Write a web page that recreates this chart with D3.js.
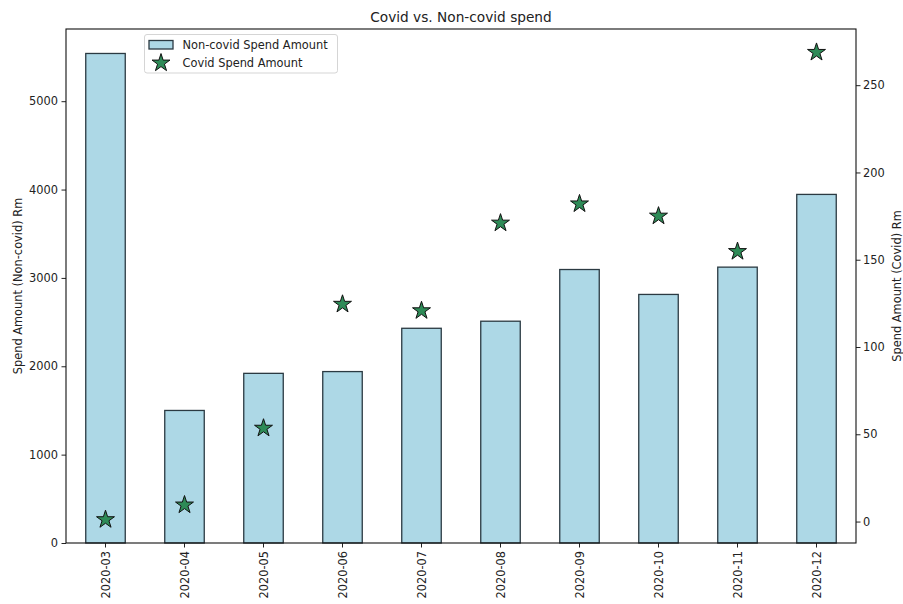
<!DOCTYPE html>
<html>
<head>
<meta charset="utf-8">
<script src="https://cdn.jsdelivr.net/npm/d3@7"></script>
<style>
  body { margin: 0; background: #fff; }
  svg { display: block; font-family: "DejaVu Sans", sans-serif; }
</style>
</head>
<body>
<svg id="chart" width="903" height="604"></svg>
<script>
const months = ["2020-03","2020-04","2020-05","2020-06","2020-07","2020-08","2020-09","2020-10","2020-11","2020-12"];
const nonCovid = [5540, 1500, 1920, 1940, 2430, 2510, 3095, 2813, 3122, 3945];
const covid = [1.1, 9.5, 53.5, 124.5, 120.8, 171, 182, 175, 154.7, 268.8];
const leftTicks = [0, 1000, 2000, 3000, 4000, 5000];
const rightTicks = [0, 50, 100, 150, 200, 250];
const titleText = "Covid vs. Non-covid spend";
const leftLabel = "Spend Amount (Non-covid) Rm";
const rightLabel = "Spend Amount (Covid) Rm";
const legendLabels = ["Non-covid Spend Amount", "Covid Spend Amount"];

const svg = d3.select("#chart");
const L = 66, R = 856, T = 29, B = 543;
const fs = 11.4;

const x = d3.scaleBand().domain(months).range([L, R]).paddingInner(0.5).paddingOuter(0.25);
const maxNC = d3.max(nonCovid);
const yL = d3.scaleLinear().domain([0, maxNC * 1.05]).range([B, T]);
const cMin = d3.min(covid), cMax = d3.max(covid), cr = cMax - cMin;
const yR = d3.scaleLinear().domain([cMin - 0.05 * cr, cMax + 0.05 * cr]).range([B, T]);

// bars
svg.append("g").selectAll("rect").data(months).join("rect")
  .attr("x", d => x(d))
  .attr("y", (d, i) => yL(nonCovid[i]))
  .attr("width", x.bandwidth())
  .attr("height", (d, i) => B - yL(nonCovid[i]))
  .attr("fill", "#add8e6")
  .attr("stroke", "#2b3a42")
  .attr("stroke-width", 1.3);

// stars
const star = d3.symbol().type(d3.symbolStar).size(100);
svg.append("g").selectAll("path").data(months).join("path")
  .attr("d", star)
  .attr("transform", (d, i) => `translate(${x(d) + x.bandwidth() / 2},${yR(covid[i])})`)
  .attr("fill", "#2e8b57")
  .attr("stroke", "#111")
  .attr("stroke-width", 1);

// axes
function styleAxis(g) {
  g.selectAll(".domain").remove();
  g.selectAll("text").attr("font-size", fs).attr("fill", "#222").attr("font-family", "DejaVu Sans, sans-serif");
  g.selectAll("line").attr("stroke", "#222");
}
const gx = svg.append("g").attr("transform", `translate(0,${B})`)
  .call(d3.axisBottom(x).tickSize(4.5).tickPadding(4));
gx.selectAll("text")
  .attr("transform", "rotate(-90)")
  .attr("text-anchor", "end")
  .attr("dy", "0.35em")
  .attr("x", -8)
  .attr("y", 0);
styleAxis(gx);

const gl = svg.append("g").attr("transform", `translate(${L},0)`)
  .call(d3.axisLeft(yL).tickValues(leftTicks).tickSize(4.5).tickPadding(3.5).tickFormat(d3.format("d")));
styleAxis(gl);
const gr = svg.append("g").attr("transform", `translate(${R},0)`)
  .call(d3.axisRight(yR).tickValues(rightTicks).tickSize(4.5).tickPadding(2.5).tickFormat(d3.format("d")));
styleAxis(gr);

// frame
svg.append("rect").attr("x", L).attr("y", T).attr("width", R - L).attr("height", B - T)
  .attr("fill", "none").attr("stroke", "#111").attr("stroke-width", 1.1);

// title
svg.append("text").attr("x", (L + R) / 2).attr("y", 22).attr("text-anchor", "middle")
  .attr("font-size", 13.7).attr("fill", "#222").text(titleText);

// axis labels
svg.append("text").attr("transform", `translate(21.5,${(T + B) / 2}) rotate(-90)`)
  .attr("text-anchor", "middle").attr("font-size", fs).attr("fill", "#222").text(leftLabel);
svg.append("text").attr("transform", `translate(900.5,${(T + B) / 2}) rotate(-90)`)
  .attr("text-anchor", "middle").attr("font-size", fs).attr("fill", "#222").text(rightLabel);

// legend
const lg = svg.append("g");
lg.append("rect").attr("x", 144.5).attr("y", 34.5).attr("width", 193).attr("height", 38.5)
  .attr("rx", 2.5).attr("fill", "#fff").attr("fill-opacity", 0.8).attr("stroke", "#d5d5d5");
lg.append("rect").attr("x", 149).attr("y", 40.5).attr("width", 24).attr("height", 8.5)
  .attr("fill", "#add8e6").attr("stroke", "#2b3a42").attr("stroke-width", 1.3);
lg.append("path").attr("d", star).attr("transform", "translate(161,63)")
  .attr("fill", "#2e8b57").attr("stroke", "#111").attr("stroke-width", 1);
lg.selectAll("text.leg").data(legendLabels).join("text").attr("class", "leg")
  .attr("x", 182.5).attr("y", (d, i) => 44.7 + i * 18.3).attr("dy", "0.35em")
  .attr("font-size", fs).attr("fill", "#222").text(d => d);
</script>
</body>
</html>
